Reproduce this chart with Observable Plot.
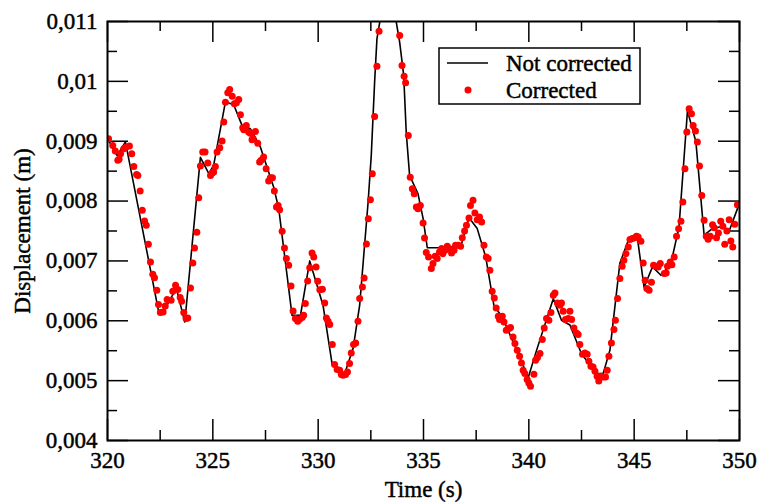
<!DOCTYPE html>
<html><head><meta charset="utf-8">
<script src="https://cdn.jsdelivr.net/npm/d3@7"></script>
<script src="https://cdn.jsdelivr.net/npm/@observablehq/plot@0.6"></script>
<style>
html,body{margin:0;padding:0;background:#fff;}
#chart{width:758px;height:502px;}
#chart svg text{stroke:#000;stroke-width:0.45px;paint-order:stroke;}
</style></head><body><div id="chart"></div>
<script>
// Tick values
const xMajor = [320, 325, 330, 335, 340, 345, 350];
const xMinor = [322.5, 327.5, 332.5, 337.5, 342.5, 347.5];
const yMajor = [0.004, 0.005, 0.006, 0.007, 0.008, 0.009, 0.010, 0.011];
const yMinor = [0.0045, 0.0055, 0.0065, 0.0075, 0.0085, 0.0095, 0.0105];

// Series: [time (s), displacement (m)]
const notCorrected = [
[320.01,0.00904],[320.46,0.00876],[320.85,0.00899],[322.43,0.00615],[322.64,0.00615],
[323.27,0.00654],[323.67,0.00598],[324.41,0.00873],[324.81,0.00846],[325.04,0.00860],
[325.60,0.00966],[325.99,0.00961],[326.39,0.00926],[326.78,0.00921],[327.26,0.00890],
[327.89,0.00823],[328.13,0.00787],[328.76,0.00609],[329.16,0.00609],[329.60,0.00700],
[330.23,0.00626],[330.67,0.00526],[331.26,0.00512],[331.66,0.00554],[331.97,0.00626],
[332.37,0.00798],[332.52,0.00876],[332.68,0.00999],[332.79,0.01071],[333.00,0.01115],
[333.64,0.01113],[333.87,0.01065],[334.06,0.01010],[334.18,0.00915],[334.34,0.00843],
[334.74,0.00812],[334.98,0.00771],[335.18,0.00722],[336.21,0.00722],[336.81,0.00729],
[337.16,0.00772],[337.55,0.00754],[337.95,0.00707],[338.34,0.00626],[338.74,0.00606],
[339.69,0.00529],[339.97,0.00505],[340.37,0.00551],[341.16,0.00637],[341.55,0.00601],
[341.95,0.00593],[342.50,0.00545],[343.21,0.00512],[343.53,0.00512],[343.85,0.00551],
[344.32,0.00696],[344.72,0.00734],[345.00,0.00740],[345.16,0.00737],[345.47,0.00656],
[345.87,0.00690],[346.27,0.00676],[346.74,0.00695],[347.13,0.00757],[347.53,0.00951],
[347.93,0.00899],[348.32,0.00743],[348.71,0.00754],[349.11,0.00757],[349.51,0.00750],
[349.90,0.00787],[350.00,0.00800]
];

const corrected = [
[320.05,0.009042],[320.25,0.008930],[320.37,0.008835],[320.49,0.008680],[320.55,0.008700],
[320.62,0.008791],[320.77,0.008875],[320.89,0.008902],[321.04,0.008918],[321.15,0.008791],
[321.25,0.008579],[321.38,0.008446],[321.44,0.008429],[321.55,0.008167],[321.65,0.007845],
[321.76,0.007666],[321.84,0.007594],[321.94,0.007277],[322.04,0.006982],[322.15,0.006776],
[322.23,0.006721],[322.34,0.006509],[322.42,0.006270],[322.51,0.006137],[322.64,0.006147],
[322.74,0.006247],[322.83,0.006354],[323.02,0.006342],[323.10,0.006493],[323.23,0.006593],
[323.34,0.006521],[323.45,0.006388],[323.52,0.006326],[323.62,0.006137],[323.73,0.006037],
[323.81,0.006047],[323.94,0.006548],[324.05,0.006965],[324.13,0.007216],[324.24,0.007478],
[324.33,0.008057],[324.41,0.008584],[324.52,0.008818],[324.63,0.008818],[324.76,0.008635],
[324.89,0.008429],[324.97,0.008468],[325.04,0.008484],[325.12,0.008579],[325.20,0.008818],
[325.33,0.008892],[325.44,0.009002],[325.52,0.009319],[325.60,0.009653],[325.71,0.009810],
[325.80,0.009865],[325.92,0.009753],[326.02,0.009626],[326.12,0.009643],[326.23,0.009698],
[326.31,0.009442],[326.42,0.009225],[326.47,0.009192],[326.59,0.009264],[326.70,0.009152],
[326.78,0.009135],[326.86,0.009025],[326.91,0.009042],[327.02,0.009164],[327.13,0.008968],
[327.22,0.008651],[327.29,0.008680],[327.41,0.008735],[327.53,0.008541],[327.65,0.008334],
[327.73,0.008391],[327.83,0.008391],[327.92,0.008167],[328.02,0.007900],[328.10,0.007928],
[328.17,0.007857],[328.29,0.007494],[328.40,0.007216],[328.49,0.007039],[328.60,0.006927],
[328.71,0.006581],[328.81,0.006164],[328.92,0.006037],[329.03,0.005992],[329.12,0.006025],
[329.24,0.006054],[329.31,0.006092],[329.39,0.006287],[329.50,0.006665],[329.60,0.006888],
[329.71,0.007132],[329.79,0.007065],[329.90,0.006898],[329.98,0.006659],[330.08,0.006518],
[330.20,0.006526],[330.31,0.006297],[330.39,0.006047],[330.47,0.005992],[330.55,0.005937],
[330.67,0.005603],[330.78,0.005269],[330.90,0.005186],[331.02,0.005174],[331.10,0.005102],
[331.18,0.005090],[331.30,0.005102],[331.39,0.005145],[331.49,0.005286],[331.57,0.005463],
[331.68,0.005603],[331.78,0.005630],[331.89,0.005992],[331.97,0.006371],[332.10,0.006565],
[332.18,0.006715],[332.29,0.007282],[332.38,0.007706],[332.48,0.008023],[332.57,0.008457],
[332.68,0.009414],[332.79,0.010254],[332.89,0.010838],[333.87,0.010766],[333.98,0.010265],
[334.08,0.010087],[334.15,0.009977],[334.28,0.009097],[334.37,0.008396],[334.47,0.008207],
[334.56,0.008124],[334.66,0.007900],[334.74,0.007873],[334.85,0.007928],[334.98,0.007633],
[335.05,0.007382],[335.13,0.007139],[335.24,0.007065],[335.37,0.006872],[335.45,0.006955],
[335.56,0.007077],[335.65,0.007039],[335.76,0.007149],[335.86,0.007206],[335.92,0.007122],
[336.02,0.007177],[336.13,0.007244],[336.21,0.007206],[336.33,0.007132],[336.45,0.007177],
[336.52,0.007261],[336.65,0.007261],[336.76,0.007244],[336.84,0.007389],[336.95,0.007499],
[337.04,0.007594],[337.16,0.007716],[337.23,0.007928],[337.35,0.008012],[337.44,0.007800],
[337.55,0.007690],[337.66,0.007733],[337.76,0.007650],[337.87,0.007261],[337.98,0.007065],
[338.07,0.007039],[338.15,0.006843],[338.26,0.006493],[338.36,0.006381],[338.45,0.006214],
[338.55,0.006075],[338.61,0.006020],[338.74,0.006075],[338.82,0.005980],[338.93,0.005841],
[339.06,0.005870],[339.13,0.005887],[339.25,0.005730],[339.34,0.005620],[339.45,0.005508],
[339.56,0.005407],[339.65,0.005296],[339.73,0.005174],[339.81,0.005119],[339.92,0.005018],
[340.00,0.004962],[340.08,0.004907],[340.24,0.005107],[340.32,0.005341],[340.41,0.005386],
[340.53,0.005453],[340.64,0.005686],[340.73,0.005880],[340.84,0.006037],[340.95,0.006008],
[341.05,0.006137],[341.16,0.006426],[341.24,0.006464],[341.36,0.006297],[341.48,0.006259],
[341.55,0.006297],[341.63,0.006159],[341.74,0.006020],[341.87,0.006037],[341.95,0.006159],
[342.03,0.006020],[342.14,0.005880],[342.26,0.005797],[342.34,0.005770],[342.42,0.005603],
[342.55,0.005441],[342.66,0.005463],[342.77,0.005441],[342.85,0.005324],[342.95,0.005240],
[343.05,0.005229],[343.14,0.005157],[343.24,0.005074],[343.32,0.004995],[343.42,0.005074],
[343.53,0.005062],[343.64,0.005062],[343.72,0.005174],[343.80,0.005407],[343.92,0.005630],
[344.04,0.005853],[344.11,0.006008],[344.21,0.006371],[344.32,0.006705],[344.43,0.006910],
[344.51,0.007010],[344.61,0.007122],[344.72,0.007232],[344.80,0.007356],[344.91,0.007373],
[345.03,0.007389],[345.11,0.007411],[345.19,0.007399],[345.32,0.007327],[345.43,0.006965],
[345.52,0.006676],[345.60,0.006539],[345.71,0.006509],[345.82,0.006643],[345.92,0.006927],
[346.03,0.006910],[346.14,0.006898],[346.24,0.006955],[346.43,0.006788],[346.52,0.006798],
[346.58,0.006910],[346.71,0.006982],[346.79,0.006938],[346.90,0.007065],[347.01,0.007411],
[347.11,0.007539],[347.22,0.007661],[347.31,0.007983],[347.41,0.008541],[347.50,0.009152],
[347.61,0.009543],[347.72,0.009459],[347.80,0.009264],[347.91,0.009169],[348.00,0.008985],
[348.10,0.008584],[348.21,0.008095],[348.32,0.007678],[348.42,0.007411],[348.51,0.007361],
[348.61,0.007411],[348.72,0.007606],[348.80,0.007556],[348.91,0.007389],[349.00,0.007466],
[349.11,0.007661],[349.21,0.007578],[349.30,0.007277],[349.40,0.007499],[349.51,0.007690],
[349.59,0.007333],[349.68,0.007232],[349.78,0.007612],[349.90,0.007939]
];

const legendLabels = ["Not corrected", "Corrected"];

const font = "'Liberation Serif', 'Times New Roman', Times, serif";
const W = 758, H = 502, mL = 107, mR = 19, mT = 21, mB = 62;
const iW = W - mL - mR, iH = H - mT - mB;
const majorLen = 21, minorLen = 10;
const fmtY = d => String(+d.toFixed(4)).replace(".", ",");

const plot = Plot.plot({
  width: W, height: H,
  marginLeft: mL, marginRight: mR, marginTop: mT, marginBottom: mB,
  style: {fontFamily: font, fontSize: "23px", color: "#000", background: "#fff", overflow: "visible"},
  x: {domain: [320, 350]},
  y: {domain: [0.004, 0.011]},
  marks: [
    Plot.axisX(xMajor, {tickSize: 0, tickPadding: 11, tickFormat: d => String(d), label: null, fontSize: 23}),
    Plot.axisY(yMajor, {tickSize: 0, tickPadding: 10, tickFormat: fmtY, label: null, fontSize: 23}),
    // inward ticks on all four sides
    Plot.tickX(xMajor, {x: d => d, insetTop: iH - majorLen, stroke: "black", strokeWidth: 1.5}),
    Plot.tickX(xMajor, {x: d => d, insetBottom: iH - majorLen, stroke: "black", strokeWidth: 1.5}),
    Plot.tickX(xMinor, {x: d => d, insetTop: iH - minorLen, stroke: "black", strokeWidth: 1.5}),
    Plot.tickX(xMinor, {x: d => d, insetBottom: iH - minorLen, stroke: "black", strokeWidth: 1.5}),
    Plot.tickY(yMajor, {y: d => d, insetRight: iW - majorLen, stroke: "black", strokeWidth: 1.5}),
    Plot.tickY(yMajor, {y: d => d, insetLeft: iW - majorLen, stroke: "black", strokeWidth: 1.5}),
    Plot.tickY(yMinor, {y: d => d, insetRight: iW - minorLen, stroke: "black", strokeWidth: 1.5}),
    Plot.tickY(yMinor, {y: d => d, insetLeft: iW - minorLen, stroke: "black", strokeWidth: 1.5}),
    Plot.line(notCorrected, {x: d => d[0], y: d => d[1], stroke: "black", strokeWidth: 1.6, clip: true}),
    Plot.dot(corrected, {x: d => d[0], y: d => d[1], r: 3.5, fill: "#ff0000", stroke: "none", clip: true}),
    Plot.frame({stroke: "black", strokeWidth: 2}),
    Plot.text(["Time (s)"], {text: d => d, frameAnchor: "bottom", dy: 49, textAnchor: "middle", lineAnchor: "middle", fontSize: 23}),
    Plot.text(["Displacement (m)"], {text: d => d, frameAnchor: "left", dx: -85, rotate: -90, textAnchor: "middle", lineAnchor: "middle", fontSize: 23})
  ]
});
document.getElementById("chart").appendChild(plot);

// Legend inside the plot area
const svg = d3.select(plot);
const lg = svg.append("g").attr("font-family", font).attr("font-size", 23).attr("text-anchor", "start");
lg.append("rect").attr("x", 439).attr("y", 48).attr("width", 201).attr("height", 56)
  .attr("fill", "white").attr("stroke", "black").attr("stroke-width", 1.5);
lg.append("line").attr("x1", 447).attr("x2", 488).attr("y1", 63).attr("y2", 63)
  .attr("stroke", "black").attr("stroke-width", 1.6);
lg.append("circle").attr("cx", 468).attr("cy", 90).attr("r", 3.5).attr("fill", "#ff0000");
lg.append("text").attr("x", 506).attr("y", 71).attr("fill", "black").attr("text-anchor", "start").text(legendLabels[0]);
lg.append("text").attr("x", 506).attr("y", 98).attr("fill", "black").attr("text-anchor", "start").text(legendLabels[1]);
</script>
</body></html>
